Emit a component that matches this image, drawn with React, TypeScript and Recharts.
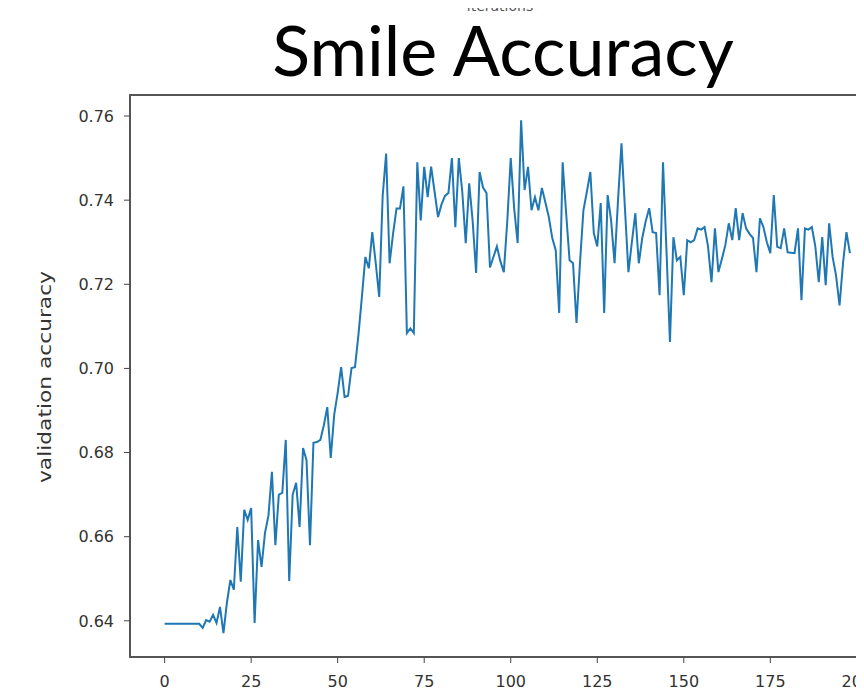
import { LineChart, Line, XAxis, YAxis, ReferenceArea } from 'recharts'

// validation accuracy per iteration
const accuracy = [
  0.6393, 0.6393, 0.6393, 0.6393, 0.6393, 0.6393, 0.6393, 0.6393, 0.6393, 0.6393,
  0.6393, 0.6383, 0.6402, 0.6398, 0.6414, 0.6395, 0.6433, 0.6371, 0.6443, 0.6497,
  0.6474, 0.6623, 0.6493, 0.6664, 0.664, 0.6668, 0.6395, 0.6592, 0.6528, 0.6609,
  0.665, 0.6754, 0.658, 0.67, 0.6704, 0.683, 0.6495, 0.67, 0.6728, 0.6623,
  0.6811, 0.6782, 0.658, 0.6823, 0.6825, 0.683, 0.6865, 0.6908, 0.6787, 0.689,
  0.6942, 0.7003, 0.6932, 0.6935, 0.7001, 0.7003, 0.708, 0.717, 0.7265, 0.7238,
  0.7324, 0.725, 0.717, 0.741, 0.7511, 0.725, 0.732, 0.738, 0.738, 0.7433,
  0.7084, 0.7095, 0.7084, 0.749, 0.7352, 0.7479, 0.7407, 0.748, 0.742, 0.736,
  0.739, 0.741, 0.7417, 0.75, 0.7336, 0.75, 0.742, 0.7298, 0.744, 0.735,
  0.7227, 0.7467, 0.743, 0.7417, 0.724, 0.7265, 0.729, 0.7255, 0.7229, 0.735,
  0.75, 0.738, 0.7298, 0.759, 0.7424, 0.7479, 0.7376, 0.7407, 0.7376, 0.7429,
  0.7395, 0.736, 0.731, 0.7281, 0.7132, 0.749, 0.737, 0.7257, 0.725, 0.7108,
  0.725, 0.7376, 0.742, 0.7467, 0.7322, 0.729, 0.7393, 0.7132, 0.7412, 0.7352,
  0.725, 0.74, 0.7535, 0.738, 0.7229, 0.73, 0.7369, 0.725, 0.731, 0.735,
  0.7381, 0.7324, 0.7322, 0.7174, 0.749, 0.728, 0.7063, 0.7312, 0.7257, 0.7265,
  0.7174, 0.7305, 0.73, 0.7305, 0.7333, 0.733, 0.7336, 0.729, 0.7205, 0.7333,
  0.7229, 0.726, 0.7293, 0.7345, 0.7305, 0.7381, 0.7305, 0.7369, 0.7333, 0.732,
  0.731, 0.7229, 0.7357, 0.7336, 0.73, 0.7274, 0.7412, 0.7289, 0.7286, 0.7333,
  0.7276, 0.7275, 0.7274, 0.7333, 0.7162, 0.7333, 0.733, 0.7336, 0.729, 0.7205,
  0.7312, 0.7198, 0.7345, 0.7265, 0.722, 0.715, 0.725, 0.7324, 0.7274,
]

const xTicks = [0, 25, 50, 75, 100, 125, 150, 175, 200]
const yTicks = [0.64, 0.66, 0.68, 0.7, 0.72, 0.74, 0.76]

const xDomain = [-10, 209]
const yDomain = [0.6314, 0.765]

const data = accuracy.map((v, i) => ({ iter: i, acc: v }))

const tickStyle = { fontFamily: 'DejaVu Sans', fontSize: 16, fill: '#333' }

export default function App() {
  return (
    <div
      style={{
        position: 'relative',
        width: 864,
        height: 700,
        margin: -8,
        overflow: 'hidden',
        background: '#fff',
      }}
    >
      <div style={{ position: 'absolute', left: 0, top: 0 }}>
        <LineChart
          width={900}
          height={700}
          data={data}
          margin={{ top: 95, right: 12, bottom: 13, left: 50 }}
        >
          <XAxis
            dataKey="iter"
            type="number"
            domain={xDomain}
            ticks={xTicks}
            allowDataOverflow
            height={30}
            tickSize={6}
            tickMargin={13}
            tick={tickStyle}
            axisLine={false}
            tickLine={{ stroke: '#444' }}
          />
          <YAxis
            type="number"
            domain={yDomain}
            ticks={yTicks}
            allowDataOverflow
            width={80}
            tickSize={6}
            tickMargin={10}
            tick={tickStyle}
            tickFormatter={(v: number) => v.toFixed(2)}
            axisLine={false}
            tickLine={{ stroke: '#444' }}
          />
          <ReferenceArea
            x1={xDomain[0]}
            x2={xDomain[1]}
            y1={yDomain[0]}
            y2={yDomain[1]}
            fill="none"
            stroke="#555"
            strokeWidth={2}
          />
          <Line
            type="linear"
            dataKey="acc"
            stroke="#1f77b4"
            strokeWidth={2}
            dot={false}
            isAnimationActive={false}
          />
        </LineChart>
      </div>
      <svg
        width={864}
        height={700}
        style={{ position: 'absolute', left: 0, top: 0, pointerEvents: 'none' }}
      >
        <text
          x={500}
          y={11}
          textAnchor="middle"
          fontFamily="DejaVu Sans"
          fontSize={14}
          fill="#555"
        >
          iterations
        </text>
        <text
          x={503}
          y={76}
          textAnchor="middle"
          fontFamily="Lato"
          fontSize={70}
          fill="#000"
        >
          Smile Accuracy
        </text>
        <text
          x={51}
          y={377}
          textAnchor="middle"
          fontFamily="DejaVu Sans"
          fontSize={17}
          fill="#333"
          textLength={212}
          lengthAdjust="spacingAndGlyphs"
          transform="rotate(-90 51 377)"
        >
          validation accuracy
        </text>
      </svg>
    </div>
  )
}
